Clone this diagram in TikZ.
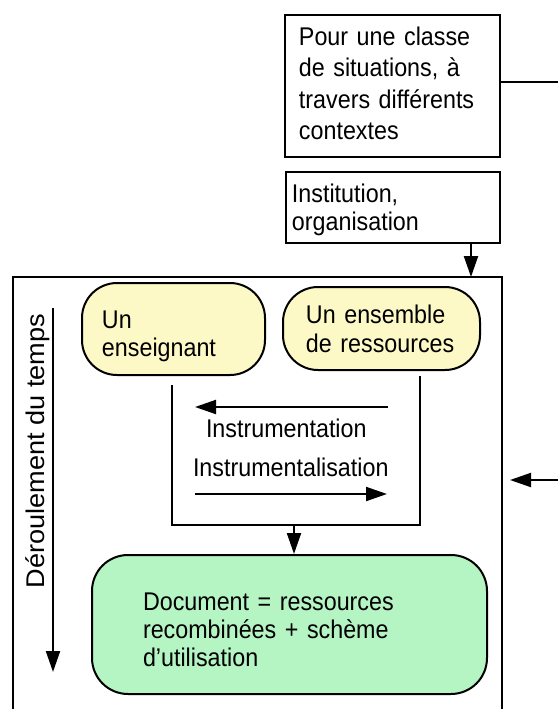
\documentclass[tikz,border=0pt]{standalone}
\usepackage{fontspec}
\setmainfont{Liberation Sans}
\newfontfamily\narrowfont[FakeStretch=0.91]{Liberation Sans}
\newfontfamily\wideFont[FakeStretch=1.06]{Liberation Sans}
\usetikzlibrary{arrows.meta,fit}
\definecolor{ybox}{RGB}{253,249,199}
\definecolor{gbox}{RGB}{181,245,196}
\begin{document}
\begin{tikzpicture}[x=0.5pt,y=-0.5pt,
  line width=1pt,
  sqbox/.style={draw=black, line width=1pt, rectangle, inner sep=0pt},
  ybx/.style={draw=black, line width=1pt, rectangle, rounded corners=17.5pt, fill=ybox, inner sep=0pt},
  gbx/.style={draw=black, line width=1pt, rectangle, rounded corners=18pt, fill=gbox, inner sep=0pt},
  txt/.style={inner sep=0pt, align=left, anchor=base west, font=\narrowfont\fontsize{12.8pt}{14.2pt}\selectfont},
  arr/.style={-{Triangle[length=10.5pt,width=7pt]}, line width=1pt},
]
\useasboundingbox (0,0) rectangle (558,709);
% outer frame
\coordinate (frTL) at (13,277);
\coordinate (frTR) at (502,277);
\coordinate (frBL) at (13,709);
\coordinate (frBR) at (502,709);
\draw[line width=1pt] (frBL) -- (frTL) -- (frTR) -- (frBR);
% top boxes
\node[sqbox, fit={(285,15) (500,157)}] (top) {};
\node[txt, text width=100pt, font=\narrowfont\fontsize{12.8pt}{15.8pt}\selectfont] (toptext) at (298,45) {Pour une classe\\de situations, à\\travers différents\\contextes};
\node[sqbox, fit={(286,172) (500,243)}] (inst) {};
\node[txt, text width=100pt] (insttext) at (291,202) {Institution,\\organisation};
% yellow boxes
\node[ybx, fit={(82,283) (265,375)}] (ens) {};
\node[txt, text width=80pt] (enstext) at (101,328) {Un\\enseignant};
\node[ybx, fit={(283,287) (480,370)}] (res) {};
\node[txt, text width=90pt, font=\narrowfont\fontsize{12.8pt}{14.5pt}\selectfont] (restext) at (305,323) {Un ensemble\\de ressources};
% green box
\node[gbx, fit={(92,555) (487,694)}] (doc) {};
\node[txt, text width=170pt] (doctext) at (142,610) {Document = ressources\\recombinées + schème\\d’utilisation};
% bracket and arrows
\coordinate (brL) at (172,385);
\coordinate (brR) at (420,376);
\coordinate (brB) at (294,525);
\draw (brL) -- (brL |- brB) -- (brR |- brB) -- (brR);
\draw[arr] (brB) -- (doc.north -| brB);
\coordinate (ia1) at (388,407);
\coordinate (ia2) at (195,407);
\draw[arr] (ia1) -- (ia2);
\node[txt] (instrum) at (205,437) {Instrumentation};
\node[txt] (instrumal) at (192,476) {Instrumentalisation};
\coordinate (ib1) at (195,494);
\coordinate (ib2) at (387,494);
\draw[arr] (ib1) -- (ib2);
% time arrow
\coordinate (t1) at (53,308);
\coordinate (t2) at (53,672);
\draw[arr] (t1) -- (t2);
\node[inner sep=0pt, anchor=base, rotate=90, font=\wideFont\fontsize{12.8pt}{16pt}\selectfont] (temps) at (45,451) {Déroulement du temps};
% institution arrow
\coordinate (instout) at (471,277);
\draw[arr] (inst.south -| instout) -- (instout);
% right side lines
\coordinate (rt) at (558,82);
\draw (top.east |- rt) -- (rt);
\coordinate (rb) at (558,480);
\coordinate (frR) at (502,480);
\draw[arr, shorten >=4pt] (rb) -- (frR);
\end{tikzpicture}
\end{document}
